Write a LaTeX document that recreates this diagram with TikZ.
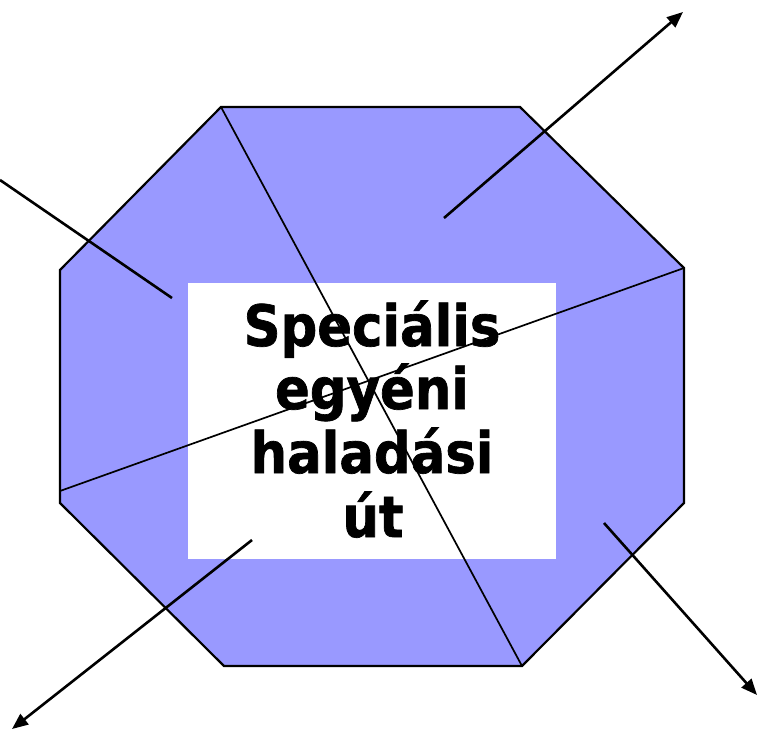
\documentclass[tikz,border=0pt]{standalone}
\usepackage{fontspec}
\newfontfamily\lblfont[FakeStretch=0.9,BoldFeatures={FakeBold=1.2}]{DejaVu Sans}
\usetikzlibrary{arrows.meta}
\definecolor{octfill}{HTML}{9999FF}
\begin{document}
\begin{tikzpicture}[x=1pt,y=-1pt,
  outline/.style={draw=black,line width=2.2pt,fill=octfill,line join=miter},
  diag/.style={draw=black,line width=1.7pt},
  arr/.style={draw=black,line width=2.6pt,-{Triangle[length=16pt,width=13pt]}},
  plainline/.style={draw=black,line width=2.6pt},
  lbl/.style={font=\lblfont\bfseries\fontsize{57}{64}\selectfont,anchor=base,inner sep=0pt}]
\useasboundingbox (0,0) rectangle (757,731);
\coordinate (v1) at (221,107);
\coordinate (v2) at (520,107);
\coordinate (v3) at (684,268);
\coordinate (v4) at (684,503);
\coordinate (v5) at (522,666);
\coordinate (v6) at (224,666);
\coordinate (v7) at (60,503);
\coordinate (v8) at (60,270);
\path[outline] (v1)--(v2)--(v3)--(v4)--(v5)--(v6)--(v7)--(v8)--cycle;
\node[fill=white,minimum width=368pt,minimum height=276pt,inner sep=0pt] (box) at (372,420.5) {};
\node[lbl] (t1) at (372,346) {Speciális};
\node[lbl] (t2) at (372,409) {egyéni};
\node[lbl] (t3) at (372,473) {haladási};
\node[lbl] (t4) at (373,537) {út};
\coordinate (l2s) at (60,491);
\draw[diag] (v1) -- (v5);
\draw[diag] (l2s) -- (v3);
\coordinate (a1s) at (444,218);
\coordinate (a1e) at (683,12);
\coordinate (a2s) at (604,523);
\coordinate (a2e) at (757,695);
\coordinate (a3s) at (252,540);
\coordinate (a3e) at (12,729);
\coordinate (p1s) at (0,180);
\coordinate (p1e) at (172,298);
\draw[arr] (a1s) -- (a1e);
\draw[arr] (a2s) -- (a2e);
\draw[arr] (a3s) -- (a3e);
\draw[plainline] (p1s) -- (p1e);
\end{tikzpicture}
\end{document}
